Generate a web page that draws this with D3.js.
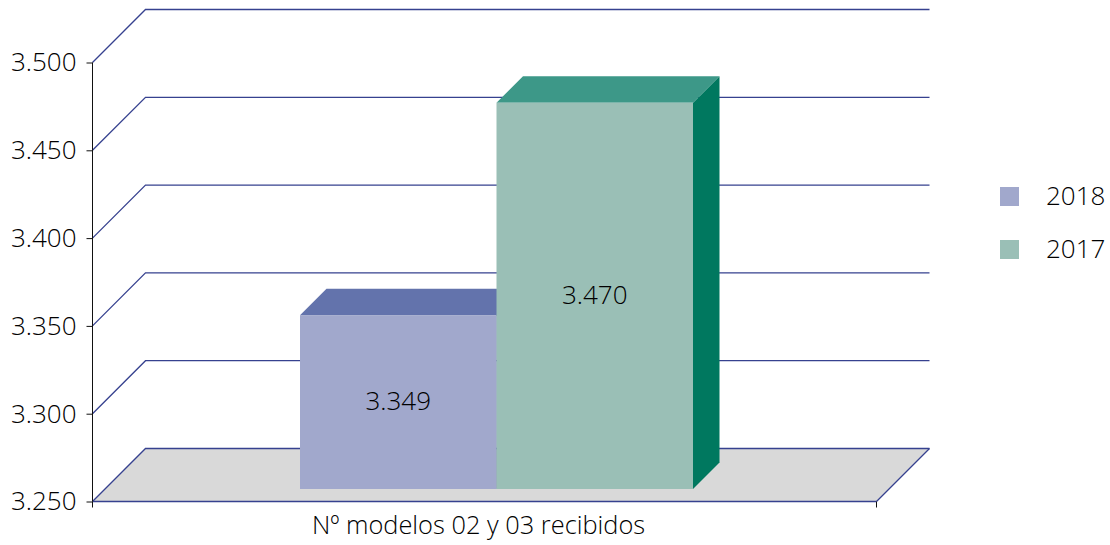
<!DOCTYPE html>
<html><head><meta charset="utf-8">
<script src="https://cdnjs.cloudflare.com/ajax/libs/d3/7.8.5/d3.min.js"></script>
<style>html,body{margin:0;padding:0;background:#fff}svg{display:block}text{font-family:"Open Sans",sans-serif;font-weight:300;fill:#000}</style>
</head><body>
<script>
const category = ["Nº modelos 02 y 03 recibidos"];
const seriesNames = ["2018", "2017"];
const seriesValues = [3349, 3470];
const yTicks = [3250, 3300, 3350, 3400, 3450, 3500];
const frontColors = ["#A1A8CC", "#9ABFB6"];
const topColors = ["#6373AC", "#3D9888"];
const sideColors = ["#4F5F9E", "#00785F"];

const W = 1110, H = 545, fs = 26, labelFs = 25.4;
const depth = 53, inset = 12.5, barDepth = 26.5;
const fmt = v => d3.format(",")(v).replace(",", ".");
const y = d3.scaleLinear().domain([3250, 3500]).range([501.5, 62.5]);
const x = d3.scaleBand().domain(category).range([92.5, 876.5]);
const xs = d3.scaleBand().domain(seriesNames)
  .range([x(category[0]) + 207.5, x(category[0]) + 600.5]);
const svg = d3.select("body").append("svg").attr("width", W).attr("height", H);
const poly = pts => pts.map(p => p.join(",")).join(" ");
const grid = "#36418F", gw = 1.3;

// floor
const y0 = y(3250), xL = x.range()[0], xR = x.range()[1];
svg.append("polygon")
  .attr("points", poly([[xL, y0], [xL + depth, y0 - depth], [xR + depth, y0 - depth], [xR, y0]]))
  .attr("fill", "#D9D9D9");

// gridlines
svg.selectAll("polyline.grid").data(yTicks).join("polyline").attr("class", "grid")
  .attr("points", d => poly([[xL, y(d)], [xL + depth, y(d) - depth], [xR + depth, y(d) - depth]]))
  .attr("fill", "none").attr("stroke", grid).attr("stroke-width", gw);
svg.append("line").attr("x1", xL).attr("x2", xR).attr("y1", y0).attr("y2", y0).attr("stroke", grid).attr("stroke-width", gw);
svg.append("line").attr("x1", xR).attr("x2", xR + depth).attr("y1", y0).attr("y2", y0 - depth).attr("stroke", grid).attr("stroke-width", gw);

// axes
const yAxis = d3.axisLeft(y).tickValues(yTicks).tickFormat(fmt).tickSize(6).tickPadding(10);
const gy = svg.append("g").attr("transform", `translate(${xL},0)`).call(yAxis);
gy.select(".domain").attr("stroke", "#111").attr("d", `M0,${y(3500)}V${y0}`);
gy.selectAll("line").attr("stroke", "#111");
gy.selectAll("text").style("font-size", fs + "px").style("font-family", '"Open Sans",sans-serif').attr("fill", "#000").attr("dy", "0.32em");

const xAxis = d3.axisBottom(x).tickValues(category).tickSize(0).tickPadding(14);
const gx = svg.append("g").attr("transform", `translate(0,${y0})`).call(xAxis);
gx.select(".domain").remove();
gx.selectAll("text").attr("transform", "translate(-6,0)").style("font-size", labelFs + "px").style("font-family", '"Open Sans",sans-serif').attr("fill", "#000");
[xL, xR].forEach(px => svg.append("line").attr("x1", px).attr("x2", px).attr("y1", y0).attr("y2", y0 + 6).attr("stroke", "#111"));

// bars
const rows = seriesNames.map((n, i) => ({ n, v: seriesValues[i], i }));
rows.forEach(d => {
  const l = xs(d.n), r = l + xs.bandwidth(), t = y(d.v) - inset, b = y0 - inset;
  svg.append("polygon").attr("points", poly([[r, t], [r + barDepth, t - barDepth], [r + barDepth, b - barDepth], [r, b]])).attr("fill", sideColors[d.i]);
  svg.append("polygon").attr("points", poly([[l, t], [l + barDepth, t - barDepth], [r + barDepth, t - barDepth], [r, t]])).attr("fill", topColors[d.i]);
  svg.append("rect").attr("x", l).attr("y", t).attr("width", r - l).attr("height", b - t).attr("fill", frontColors[d.i]);
  svg.append("text").attr("x", (l + r) / 2).attr("y", (t + b) / 2).attr("dy", "0.32em")
    .attr("text-anchor", "middle").style("font-size", fs + "px").text(fmt(d.v));
});

// legend
const ly = d3.scalePoint().domain(seriesNames).range([196.5, 249.5]);
rows.forEach(d => {
  svg.append("rect").attr("x", 1000).attr("y", ly(d.n) - 9.5).attr("width", 19).attr("height", 19).attr("fill", frontColors[d.i]);
  svg.append("text").attr("x", 1046).attr("y", ly(d.n)).attr("dy", "0.32em").style("font-size", fs + "px").text(d.n);
});
</script>
</body></html>
